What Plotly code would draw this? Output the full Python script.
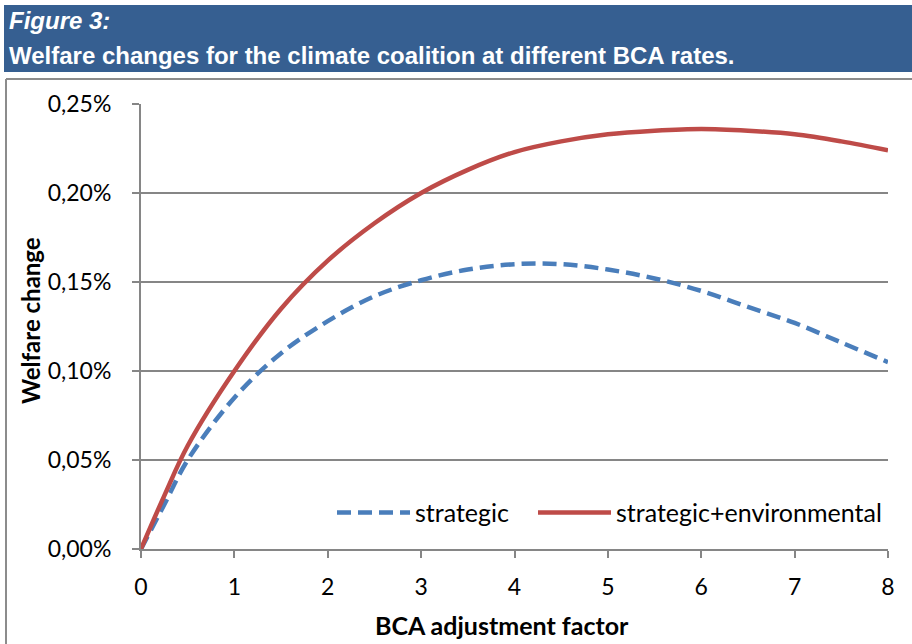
import plotly.graph_objects as go

x_vals = [0, 0.25, 0.5, 1, 1.5, 2, 2.5, 3, 3.5, 4, 4.5, 5, 5.5, 6, 6.5, 7, 7.5, 8]
strategic = [0, 0.025, 0.050, 0.085, 0.110, 0.128, 0.142, 0.151, 0.157, 0.160, 0.160, 0.157, 0.152, 0.145, 0.136, 0.127, 0.116, 0.105]
strat_env = [0, 0.030, 0.058, 0.100, 0.135, 0.162, 0.183, 0.200, 0.213, 0.223, 0.229, 0.233, 0.235, 0.236, 0.235, 0.233, 0.229, 0.224]
y_ticks = [0, 0.05, 0.10, 0.15, 0.20, 0.25]
y_tick_text = ["0,00%", "0,05%", "0,10%", "0,15%", "0,20%", "0,25%"]
x_ticks = [0, 1, 2, 3, 4, 5, 6, 7, 8]

W, H = 912, 644
L, R, T, B = 141, 888, 104, 549

def px(x):
    return (x - L) / (R - L)

def py(y):
    return (B - y) / (B - T)

fig = go.Figure()
fig.add_trace(go.Scatter(x=x_vals, y=strategic, mode="lines", name="strategic", legend="legend",
                         line=dict(color="#4A7EBB", width=4.5, dash="14px,7px", shape="spline")))
fig.add_trace(go.Scatter(x=x_vals, y=strat_env, mode="lines", name="strategic+environmental", legend="legend2",
                         line=dict(color="#BE4B48", width=4.5, shape="spline")))

font = "Lato, 'Open Sans', sans-serif"
leg_common = dict(orientation="h", y=0.03, xanchor="left", yanchor="bottom",
                  bgcolor="rgba(0,0,0,0)", font=dict(size=25))
fig.update_layout(
    width=W, height=H,
    margin=dict(l=L, r=W - R, t=T, b=H - B, autoexpand=False),
    paper_bgcolor="white", plot_bgcolor="white",
    font=dict(family=font, size=23, color="#000"),
    showlegend=True,
    legend=dict(x=px(332), itemwidth=73, **leg_common),
    legend2=dict(x=px(533), itemwidth=73, **leg_common),
    xaxis=dict(range=[0, 8], tickvals=x_ticks, showgrid=False, zeroline=False, automargin=False,
               showline=True, linecolor="#868686", linewidth=2,
               ticks="outside", ticklen=7, tickcolor="#868686", tickwidth=2, ticklabelstandoff=9),
    yaxis=dict(range=[0, 0.25], tickvals=y_ticks, ticktext=y_tick_text, automargin=False,
               showgrid=True, gridcolor="#868686", gridwidth=2, zeroline=False,
               showline=True, linecolor="#868686", linewidth=2,
               ticks="outside", ticklen=7, tickcolor="#868686", tickwidth=2, ticklabelstandoff=16),
)

# axis titles
fig.add_annotation(xref="paper", yref="paper", x=px(502), y=py(625), xanchor="center", yanchor="middle",
                   text="<b>BCA adjustment factor</b>", showarrow=False, font=dict(size=25))
fig.add_annotation(xref="paper", yref="paper", x=px(30), y=py(321), xanchor="center", yanchor="middle",
                   text="<b>Welfare change</b>", showarrow=False, textangle=-90, font=dict(size=24))

# banner and frame
fig.add_shape(type="rect", xref="paper", yref="paper", x0=px(4), x1=px(914), y0=py(72), y1=py(5),
              fillcolor="#365F91", line=dict(width=0), layer="below")
fig.add_shape(type="line", xref="paper", yref="paper", x0=px(6), x1=px(6), y0=py(79), y1=py(646),
              line=dict(color="#8C8C8C", width=2))
fig.add_shape(type="line", xref="paper", yref="paper", x0=px(6), x1=px(914), y0=py(79), y1=py(79),
              line=dict(color="#8C8C8C", width=2))

fig.add_annotation(xref="paper", yref="paper", x=px(7), y=py(21), xanchor="left", yanchor="middle",
                   text="<b><i>Figure 3:</i></b>", showarrow=False,
                   font=dict(family="Liberation Sans, Arial, sans-serif", size=24, color="white"))
fig.add_annotation(xref="paper", yref="paper", x=px(7), y=py(55), xanchor="left", yanchor="middle",
                   text="<b>Welfare changes for the climate coalition at different BCA rates.</b>", showarrow=False,
                   font=dict(family="Liberation Sans, Arial, sans-serif", size=24, color="white"))

fig.write_html("out.html", config={"displayModeBar": False},
               post_script="document.body.style.margin='0';document.body.style.overflow='hidden';")
